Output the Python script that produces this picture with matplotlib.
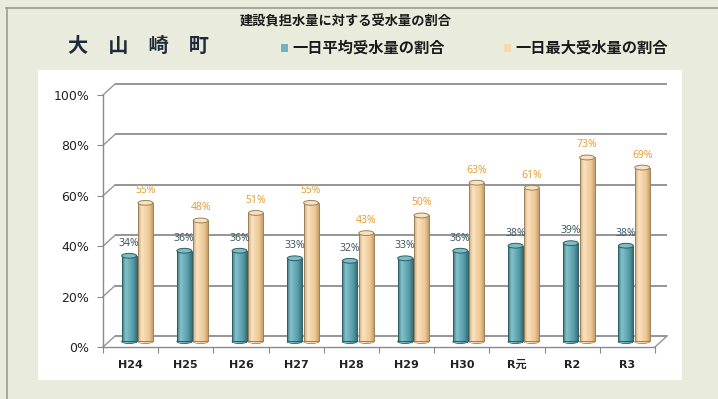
import numpy as np
import matplotlib
matplotlib.use("Agg")
import matplotlib.pyplot as plt
from matplotlib.patches import Ellipse, Rectangle
from matplotlib.colors import LinearSegmentedColormap
from matplotlib.lines import Line2D

plt.rcParams['font.family'] = ['DejaVu Sans', 'Noto Sans CJK JP']

# ---- data ----
years = ['H24', 'H25', 'H26', 'H27', 'H28', 'H29', 'H30', 'R元', 'R2', 'R3']
avg_ratio = [34, 36, 36, 33, 32, 33, 36, 38, 39, 38]     # 一日平均受水量の割合 (%)
max_ratio = [55, 48, 51, 55, 43, 50, 63, 61, 73, 69]     # 一日最大受水量の割合 (%)
y_ticks = [0, 20, 40, 60, 80, 100]

title = '大　山　崎　町'
subtitle = '建設負担水量に対する受水量の割合'
series_names = ['一日平均受水量の割合', '一日最大受水量の割合']

W, H = 718, 399
fig = plt.figure(figsize=(W / 100, H / 100), dpi=100)
fig.patch.set_facecolor('#e9ecdc')

def fx(px):
    return px / W

def fy(py):
    return 1 - py / H

# page frame and white chart panel
fig.add_artist(Line2D([fx(6), fx(718)], [fy(8), fy(8)], color='#9a9e92', lw=1.2))
fig.add_artist(Line2D([fx(7), fx(7)], [fy(8), fy(399)], color='#9a9e92', lw=1.2))
fig.add_artist(Rectangle((fx(38), fy(380)), fx(682) - fx(38), fy(70) - fy(380),
                         transform=fig.transFigure, facecolor='white',
                         edgecolor='none', zorder=0))

# front plane of the 3D-styled chart
ax = fig.add_axes([fx(103), fy(347), fx(655) - fx(103), fy(95) - fy(347)])
ax.set_xlim(-0.5, len(years) - 0.5)
ax.set_ylim(0, 100)
ax.patch.set_alpha(0)

# depth offset of the back wall, in data units
dx, dy = 0.22, 4.4
x_left, x_right = -0.5, len(years) - 0.5
grid_c = '#959595'

for v in y_ticks:
    # back wall gridline
    ax.plot([x_left + dx, x_right + dx], [v + dy, v + dy], color=grid_c, lw=1.4,
            clip_on=False, zorder=1, solid_capstyle='butt')
    # side wall connector
    ax.plot([x_left, x_left + dx], [v, v + dy], color=grid_c, lw=1.0,
            clip_on=False, zorder=1)
# floor right edge
ax.plot([x_right, x_right + dx], [0, dy], color=grid_c, lw=1.0, clip_on=False, zorder=1)

# axes styling
for s in ['top', 'right']:
    ax.spines[s].set_visible(False)
for s in ['left', 'bottom']:
    ax.spines[s].set_color('#8a8a8a')
    ax.spines[s].set_linewidth(1.0)
ax.set_yticks(y_ticks)
ax.set_yticklabels([f'{v}%' for v in y_ticks], fontsize=9, color='#222222')
ax.tick_params(axis='y', length=4, width=0.8, color='#8a8a8a', pad=6)
x = np.arange(len(years))
ax.set_xticks(x)
ax.set_xticklabels(years, fontsize=8, fontweight='bold', color='#222222')
ax.tick_params(axis='x', length=0, pad=9)
ax.set_xticks(np.arange(len(years) + 1) - 0.5, minor=True)
ax.tick_params(axis='x', which='minor', length=4, width=0.8, color='#8a8a8a')

# cylinder bars
bw = 0.27
off = 0.148
shift_x, shift_y = dx * 0.55, dy / 2

blue_cmap = LinearSegmentedColormap.from_list(
    'cyl_blue', ['#3a7883', '#86c2cb', '#6aaeb8', '#559ba6', '#37707b'])
peach_cmap = LinearSegmentedColormap.from_list(
    'cyl_peach', ['#cfa674', '#fae4c4', '#f4d4a8', '#edc894', '#c69d6c'])
grad = np.linspace(0, 1, 64).reshape(1, -1)

def draw_cylinders(xpos, values, cmap, edge, cap_face, label_color):
    bars = ax.bar(xpos, values, width=bw, bottom=shift_y, color='none',
                  edgecolor=edge, linewidth=0.7, zorder=4)
    for rect, val in zip(bars, values):
        x0 = rect.get_x()
        im = ax.imshow(grad, cmap=cmap, aspect='auto', zorder=3,
                       extent=[x0, x0 + bw, shift_y - 0.8, shift_y + val])
        clip = Rectangle((x0, shift_y - 0.8), bw, val + 0.8, transform=ax.transData)
        im.set_clip_path(clip)
        cx = x0 + bw / 2
        # rounded bottom and top caps
        ax.add_patch(Ellipse((cx, shift_y), bw, 1.6, facecolor=cmap(0.5),
                             edgecolor=edge, lw=0.6, zorder=2.9, clip_on=False))
        ax.add_patch(Ellipse((cx, shift_y + val), bw, 1.9, facecolor=cap_face,
                             edgecolor=edge, lw=0.7, zorder=5, clip_on=False))
        ax.text(cx, shift_y + val + 2.8, f'{val}%', ha='center', va='bottom',
                fontsize=7.5, family='Noto Sans', color=label_color, zorder=6)
    ax.set_xlim(-0.5, len(years) - 0.5)
    ax.set_ylim(0, 100)

draw_cylinders(x - off + shift_x, avg_ratio, blue_cmap, '#2f5d66', '#7dbdc6', '#3e5a66')
draw_cylinders(x + off + shift_x, max_ratio, peach_cmap, '#9c8058', '#f8e2c2', '#e8a035')

# titles and legend
fig.text(fx(68), fy(45), title, fontsize=14.5, fontweight='bold', color='#1f2b3a',
         family=['Noto Sans CJK JP'], ha='left', va='center')
fig.text(fx(240), fy(22), subtitle, fontsize=9.5, fontweight='bold', color='#1a1a1a',
         family=['Noto Sans CJK JP'], ha='left', va='center')

legend_colors = ['#6fb3be', '#f6d7ae']
legend_x = [281, 504]
for name, col, lx in zip(series_names, legend_colors, legend_x):
    fig.add_artist(Rectangle((fx(lx), fy(52)), fx(7), fy(44) - fy(52),
                             transform=fig.transFigure, facecolor=col,
                             edgecolor='none'))
    fig.text(fx(lx + 11), fy(48), name, fontsize=11, fontweight='bold', color='#1a1a1a',
             family=['Noto Sans CJK JP'], ha='left', va='center')

fig.savefig('out.png', dpi=100, facecolor=fig.get_facecolor())
